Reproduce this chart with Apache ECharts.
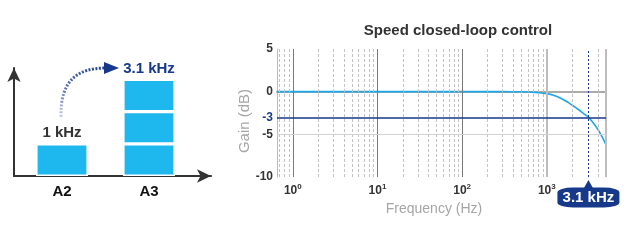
<!DOCTYPE html>
<html><head><meta charset="utf-8">
<script src="https://cdn.jsdelivr.net/npm/echarts@6/dist/echarts.min.js"></script>
<style>html,body{margin:0;padding:0;background:#fff}#c{width:640px;height:241px}</style>
</head><body><div id="c"></div><script>
// ---- Left diagram data ----
const stageCats = ['A2', 'A3'];
const blockLow = [1, 1];
const blockMid = [null, 1];
const blockTop = [null, 1];
const stageLabels = ['1 kHz', '3.1 kHz'];

// ---- Bode plot data ----
const freqHz = [0.65, 10, 100, 300, 500, 650, 800, 1000, 1200, 1500, 1800, 2100, 2400, 2700, 3100, 3500, 4000, 4500, 5000];
const gainDb = [0, 0, 0, 0, -0.01, -0.05, -0.11, -0.23, -0.42, -0.82, -1.28, -1.74, -2.15, -2.55, -3.0, -3.6, -4.4, -5.3, -6.2];
const minorFreqs = [0.7, 0.8, 0.9, 2, 3, 4, 5, 6, 7, 8, 9, 20, 30, 40, 50, 60, 70, 80, 90, 200, 300, 400, 500, 600, 700, 800, 900, 2000, 4000];
const majorFreqs = [1, 10, 100];
const lightMajorFreqs = [1000, 5000];
const yTickValues = [-10, -5, -3, 0, 5];
const cutoffHz = 3100;
const cutoffDb = -3;
const cutoffLabel = '3.1 kHz';

const NAVY = '#17398a';
const BAR = '#1eb7ee';
const CURVE = '#1ea6e6';
const FONT = '"Liberation Sans", Arial, sans-serif';

const chart = echarts.init(document.getElementById('c'), null, {renderer: 'canvas'});

function stageData(arr, withLabel) {
  return arr.map((v, i) => {
    if (v == null) return null;
    const item = {value: v};
    if (withLabel[i]) {
      item.label = {
        show: true, position: 'top', distance: 3,
        formatter: stageLabels[i],
        fontFamily: FONT, fontWeight: 'bold', fontSize: 15,
        color: i === 0 ? '#333' : NAVY
      };
    }
    return item;
  });
}

const vLines = []
  .concat(minorFreqs.map(f => ({xAxis: f, lineStyle: {type: [3, 2], color: '#c2c2c2', width: 1}})))
  .concat(majorFreqs.map(f => ({xAxis: f, lineStyle: {type: 'solid', color: '#7a7a7a', width: 1}})))
  .concat(lightMajorFreqs.map(f => ({xAxis: f, lineStyle: {type: 'solid', color: '#bdbdbd', width: 2}})))
  .concat([
    {yAxis: -5, lineStyle: {type: 'solid', color: '#d2d2d2', width: 1}},
    {xAxis: cutoffHz, lineStyle: {type: [2, 2], color: NAVY, width: 1}},
    {yAxis: cutoffDb, lineStyle: {type: 'solid', color: NAVY, width: 1.5}}
  ]);

const arrowAxisLine = {show: true, onZero: false, lineStyle: {color: '#333', width: 2}, symbol: ['none', 'arrow'], symbolSize: [10, 14]};
const bareBlock = {color: BAR, borderColor: '#fff', borderWidth: 1.6};

const option = {
  animation: false,
  textStyle: {fontFamily: FONT},
  grid: [
    {left: 18.5, top: 68, width: 174, height: 108},
    {left: 277, top: 49, right: 34, bottom: 64},
    {left: 14, top: 68, width: 197, height: 108}
  ],
  xAxis: [
    {
      gridIndex: 0, type: 'category', data: stageCats,
      axisLine: {show: false}, axisTick: {show: false}, splitLine: {show: false},
      axisLabel: {margin: 8, fontFamily: FONT, fontWeight: 'bold', fontSize: 15, color: '#111'}
    },
    {
      gridIndex: 1, type: 'log', logBase: 10, min: 0.65, max: 5000,
      axisLine: {show: true, lineStyle: {color: '#aaa', width: 2}},
      axisTick: {show: false}, splitLine: {show: false},
      axisLabel: {
        margin: 6,
        formatter: v => {
          const e = Math.log10(v), r = Math.round(e);
          if (Math.abs(e - r) > 1e-6) return '';
          return '{b|10}{s|' + r + '}';
        },
        rich: {
          b: {fontFamily: FONT, fontWeight: 'bold', fontSize: 12, color: '#333'},
          s: {fontFamily: FONT, fontWeight: 'bold', fontSize: 8, color: '#333', padding: [0, 0, 7, 0]}
        }
      }
    },
    {
      gridIndex: 2, type: 'value', min: 0, max: 1,
      axisLine: arrowAxisLine, axisTick: {show: false}, splitLine: {show: false}, axisLabel: {show: false}
    }
  ],
  yAxis: [
    {
      gridIndex: 0, type: 'value', min: 0, max: 3.357,
      axisLine: {show: false}, axisTick: {show: false}, splitLine: {show: false}, axisLabel: {show: false}
    },
    {
      gridIndex: 1, type: 'value', min: -10, max: 5, interval: 5,
      axisLine: {show: true, lineStyle: {color: '#bbb', width: 1}},
      axisTick: {show: false}, splitLine: {show: false},
      axisLabel: {
        customValues: yTickValues, margin: 4,
        formatter: v => (v === cutoffDb ? '{n|' + v + '}' : '{a|' + v + '}'),
        rich: {
          a: {fontFamily: FONT, fontWeight: 'bold', fontSize: 12, color: '#333'},
          n: {fontFamily: FONT, fontWeight: 'bold', fontSize: 12, color: NAVY}
        }
      }
    },
    {
      gridIndex: 2, type: 'value', min: 0, max: 1,
      axisLine: arrowAxisLine, axisTick: {show: false}, splitLine: {show: false}, axisLabel: {show: false}
    }
  ],
  graphic: [
    {type: 'text', x: 458, y: 31, style: {text: 'Speed closed-loop control', font: 'bold 15px ' + FONT, fill: '#333', align: 'center', verticalAlign: 'middle'}},
    {type: 'text', x: 245, y: 121, rotation: Math.PI / 2, style: {text: 'Gain (dB)', font: '15px ' + FONT, fill: '#a6a6a6', align: 'center', verticalAlign: 'middle'}},
    {type: 'text', x: 434, y: 209, style: {text: 'Frequency (Hz)', font: '14px ' + FONT, fill: '#a6a6a6', align: 'center', verticalAlign: 'middle'}},
    {
      type: 'bezierCurve', z: 10,
      shape: {x1: 61, y1: 117, cpx1: 60, cpy1: 80, cpx2: 78, cpy2: 68, x2: 106, y2: 68},
      style: {
        fill: null, lineWidth: 3, lineDash: [2, 1.5],
        stroke: {type: 'linear', x: 0, y: 1, x2: 1, y2: 0, colorStops: [{offset: 0, color: '#d5dbea'}, {offset: 0.35, color: '#5f78b3'}, {offset: 1, color: NAVY}]}
      }
    },
    {type: 'polygon', z: 10, shape: {points: [[104, 62], [119, 68], [104, 74]]}, style: {fill: NAVY}}
  ],
  series: [
    {type: 'bar', xAxisIndex: 0, yAxisIndex: 0, stack: 'st', barWidth: 52, itemStyle: bareBlock, data: stageData(blockLow, [true, false])},
    {type: 'bar', xAxisIndex: 0, yAxisIndex: 0, stack: 'st', barWidth: 52, itemStyle: bareBlock, data: stageData(blockMid, [false, false])},
    {type: 'bar', xAxisIndex: 0, yAxisIndex: 0, stack: 'st', barWidth: 52, itemStyle: bareBlock, data: stageData(blockTop, [false, true])},
    {
      type: 'line', xAxisIndex: 1, yAxisIndex: 1, z: 1, silent: true,
      data: [[1, 0]], showSymbol: false, lineStyle: {width: 0},
      markLine: {silent: true, symbol: ['none', 'none'], label: {show: false}, animation: false, data: vLines}
    },
    {
      type: 'line', xAxisIndex: 1, yAxisIndex: 1, z: 4,
      data: freqHz.map((f, i) => [f, gainDb[i]]),
      smooth: 0.4, showSymbol: false, lineStyle: {color: CURVE, width: 1.6}
    },
    {
      type: 'line', xAxisIndex: 1, yAxisIndex: 1, z: 6, silent: true,
      data: [[cutoffHz, -10]], showSymbol: false, lineStyle: {width: 0},
      markPoint: {
        silent: true, animation: false,
        data: [
          {coord: [cutoffHz, -10], symbol: 'triangle', symbolSize: [9, 8], symbolOffset: [0, 7], itemStyle: {color: NAVY}, label: {show: false}},
          {coord: [cutoffHz, -10], symbol: 'roundRect', symbolSize: [62, 20], symbolOffset: [0, 20.5], itemStyle: {color: NAVY},
            label: {show: true, position: 'inside', formatter: cutoffLabel, color: '#fff', fontFamily: FONT, fontWeight: 'bold', fontSize: 15}}
        ]
      }
    }
  ]
};
chart.setOption(option);
</script></body></html>
